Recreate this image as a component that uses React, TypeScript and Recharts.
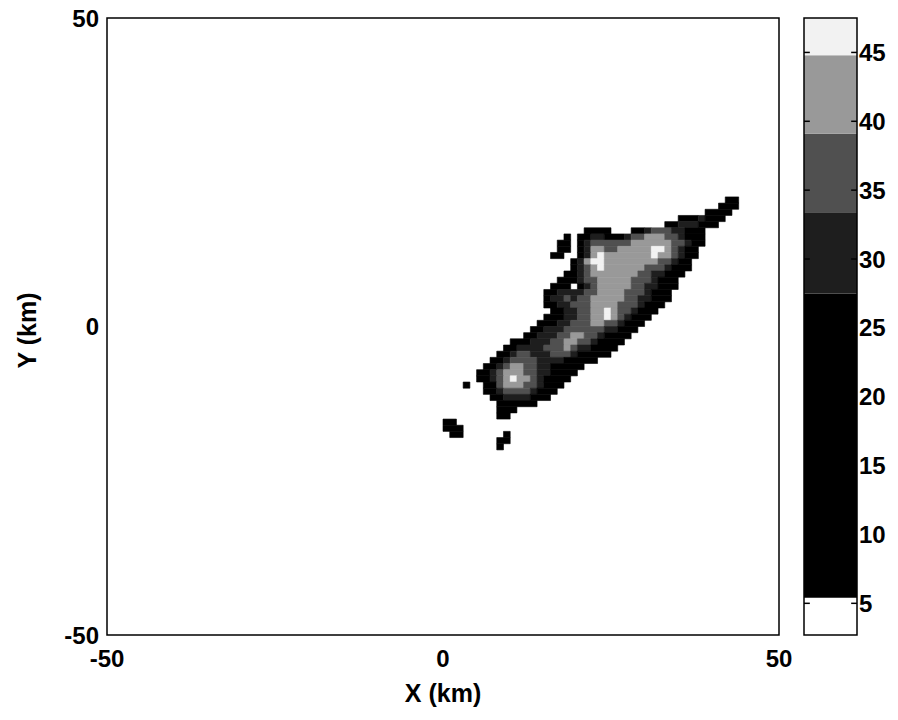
import { ScatterChart, XAxis, YAxis, ReferenceArea, ReferenceLine, Label } from 'recharts';

const FONT = '"Liberation Sans", Arial, Helvetica, sans-serif';

const X_TICKS = [-50, 0, 50];
const Y_TICKS = [-50, 0, 50];
const CBAR_TICKS = [5, 10, 15, 20, 25, 30, 35, 40, 45];

// contour bands in dBZ, lowest first, and the gray used for each
const BAND_EDGES = [2.7, 5.4, 27.5, 33.4, 39.1, 44.8, 47.5];
const BAND_FILLS = ['#ffffff', '#000000', '#1e1e1e', '#505050', '#999999', '#f2f2f2'];

// reflectivity on a 1 km grid: row y (km, lower edge), first column x0 (km),
// one char per cell = band index into BAND_FILLS, '.' = under 5 dBZ
const FIELD_ROWS: Array<{ y: number; x0: number; cells: string }> = [
  { y: 20, x0: 42, cells: '11' },
  { y: 19, x0: 41, cells: '111' },
  { y: 18, x0: 39, cells: '1111' },
  { y: 17, x0: 35, cells: '1112111' },
  { y: 16, x0: 33, cells: '11222111' },
  { y: 15, x0: 21, cells: '1111...11233322111' },
  { y: 14, x0: 18, cells: '1.1122111233444332111' },
  { y: 13, x0: 17, cells: '11.1233333344444433211' },
  { y: 12, x0: 17, cells: '11.124433444445543211' },
  { y: 11, x0: 16, cells: '11..124544444445443211' },
  { y: 10, x0: 19, cells: '124554444444433211' },
  { y: 9, x0: 19, cells: '123454444443332111' },
  { y: 8, x0: 18, cells: '112344444443322111' },
  { y: 7, x0: 17, cells: '111233444443332111' },
  { y: 6, x0: 16, cells: '111.123444443322111' },
  { y: 5, x0: 15, cells: '1122223344443332111' },
  { y: 4, x0: 15, cells: '1223233444443322111' },
  { y: 3, x0: 15, cells: '112233344443332111' },
  { y: 2, x0: 16, cells: '1122334454332111' },
  { y: 1, x0: 15, cells: '1112233445432111' },
  { y: 0, x0: 14, cells: '1112233344332111' },
  { y: -1, x0: 13, cells: '1122233333322111' },
  { y: -2, x0: 12, cells: '1122233443321111' },
  { y: -3, x0: 10, cells: '11122233443321111' },
  { y: -4, x0: 9, cells: '11222233343221111' },
  { y: -5, x0: 8, cells: '11233222333211111' },
  { y: -6, x0: 7, cells: '1123333222211111' },
  { y: -7, x0: 6, cells: '112344332211111' },
  { y: -8, x0: 5, cells: '112344433221111' },
  { y: -9, x0: 5, cells: '11234544321111' },
  { y: -10, x0: 3, cells: '1..113444332111' },
  { y: -11, x0: 6, cells: '11233332111' },
  { y: -12, x0: 7, cells: '112222111' },
  { y: -13, x0: 8, cells: '111111' },
  { y: -14, x0: 8, cells: '111' },
  { y: -15, x0: 8, cells: '11' },
  { y: -16, x0: 0, cells: '11' },
  { y: -17, x0: 0, cells: '111' },
  { y: -18, x0: 1, cells: '11......1' },
  { y: -19, x0: 8, cells: '11' },
  { y: -20, x0: 8, cells: '1' },
];

type Run = { x1: number; x2: number; y1: number; y2: number; band: number };

// merge equal neighbours in a row so each run is one rectangle
const fieldRuns = (): Run[] => {
  const runs: Run[] = [];
  FIELD_ROWS.forEach(({ y, x0, cells }) => {
    let i = 0;
    while (i < cells.length) {
      const c = cells[i];
      let j = i + 1;
      while (j < cells.length && cells[j] === c) j++;
      if (c !== '.') runs.push({ x1: x0 + i, x2: x0 + j, y1: y, y2: y + 1, band: Number(c) });
      i = j;
    }
  });
  return runs;
};

const tickStyle = { fill: '#000', fontSize: 24, fontWeight: 700, fontFamily: FONT };

const YTitle = (props: any) => {
  const { viewBox } = props;
  const x = viewBox.x + 27;
  const y = viewBox.y + viewBox.height / 2 + 4;
  return (
    <text
      x={x}
      y={y}
      transform={`rotate(-90 ${x} ${y})`}
      textAnchor="middle"
      dominantBaseline="central"
      fill="#000"
      fontSize={25}
      fontWeight={700}
      fontFamily={FONT}
    >
      Y (km)
    </text>
  );
};

export default function App() {
  const runs = fieldRuns();
  const bands = BAND_FILLS.map((fill, i) => ({ y1: BAND_EDGES[i], y2: BAND_EDGES[i + 1], fill }));

  return (
    <div style={{ position: 'absolute', left: 0, top: 0, width: 898, height: 720, background: '#fff' }}>
      <div style={{ position: 'absolute', left: 0, top: 0 }}>
        <ScatterChart width={898} height={720} margin={{ top: 18, right: 119, bottom: 0, left: 0 }}>
          <XAxis
            type="number"
            dataKey="x"
            domain={[-50, 50]}
            ticks={X_TICKS}
            height={85}
            axisLine={false}
            tickLine={false}
            tickSize={0}
            tickMargin={15}
            tick={tickStyle}
            allowDataOverflow
          >
            <Label value="X (km)" position="insideBottom" offset={18} fill="#000" fontSize={25} fontWeight={700} fontFamily={FONT} />
          </XAxis>
          <YAxis
            type="number"
            dataKey="y"
            domain={[-50, 50]}
            ticks={Y_TICKS}
            width={107}
            axisLine={false}
            tickLine={false}
            tickSize={0}
            tickMargin={8}
            tick={tickStyle}
            allowDataOverflow
          >
            <Label content={<YTitle />} />
          </YAxis>
          {runs.map((r, i) => (
            <ReferenceArea
              key={i}
              x1={r.x1}
              x2={r.x2}
              y1={r.y1}
              y2={r.y2}
              fill={BAND_FILLS[r.band]}
              fillOpacity={1}
              stroke={BAND_FILLS[r.band]}
              strokeWidth={0.6}
            />
          ))}
          <ReferenceArea x1={-50} x2={50} y1={-50} y2={50} fill="none" stroke="#000" strokeWidth={1.5} />
        </ScatterChart>
      </div>

      {/* colour bar */}
      <div style={{ position: 'absolute', left: 784, top: 0 }}>
        <ScatterChart width={114} height={720} margin={{ top: 18, right: 0, bottom: 85, left: 20 }}>
          <XAxis
            type="number"
            dataKey="x"
            domain={[0, 1]}
            height={0}
            tick={false}
            axisLine={false}
            tickLine={false}
            allowDataOverflow
          />
          <YAxis
            type="number"
            dataKey="v"
            orientation="right"
            domain={[BAND_EDGES[0], BAND_EDGES[BAND_EDGES.length - 1]]}
            ticks={CBAR_TICKS}
            width={41}
            axisLine={false}
            tickLine={false}
            tickSize={0}
            tickMargin={2}
            tick={tickStyle}
            allowDataOverflow
          />
          {bands.map((b, i) => (
            <ReferenceArea
              key={i}
              x1={0}
              x2={1}
              y1={b.y1}
              y2={b.y2}
              fill={b.fill}
              fillOpacity={1}
              stroke="none"
              ifOverflow="visible"
            />
          ))}
          {CBAR_TICKS.map((t) => (
            <ReferenceLine key={`l${t}`} segment={[{ x: 0, y: t }, { x: 0.11, y: t }]} stroke="#000" strokeWidth={1.5} ifOverflow="visible" />
          ))}
          {CBAR_TICKS.map((t) => (
            <ReferenceLine key={`r${t}`} segment={[{ x: 0.89, y: t }, { x: 1, y: t }]} stroke="#000" strokeWidth={1.5} ifOverflow="visible" />
          ))}
          <ReferenceArea
            x1={0}
            x2={1}
            y1={BAND_EDGES[0]}
            y2={BAND_EDGES[BAND_EDGES.length - 1]}
            fill="none"
            stroke="#000"
            strokeWidth={1.5}
            ifOverflow="visible"
          />
        </ScatterChart>
      </div>
    </div>
  );
}
